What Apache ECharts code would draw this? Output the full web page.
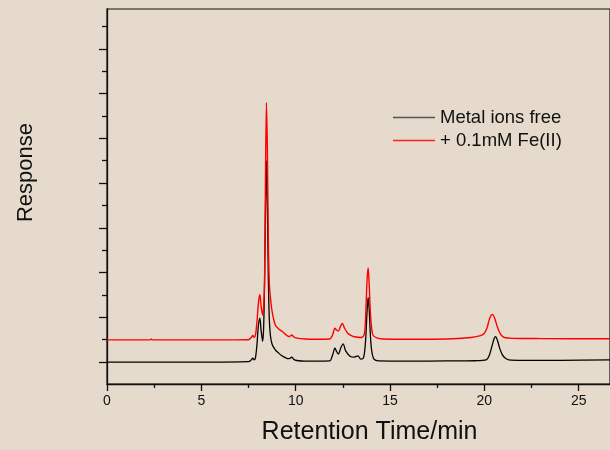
<!DOCTYPE html>
<html>
<head>
<meta charset="utf-8">
<script src="https://cdn.jsdelivr.net/npm/echarts@6/dist/echarts.min.js"></script>
<style>
html,body{margin:0;padding:0;background:#e5dacb;}
#chart{width:610px;height:450px;}
</style>
</head>
<body>
<div id="chart"></div>
<script>
// Series names
var seriesNames = ['Metal ions free', '+ 0.1mM Fe(II)'];

// Black trace: Metal ions free (retention time in min, response in arbitrary units)
var blackTime = [0, 2, 5, 7.5, 7.65, 7.73, 7.8, 7.87, 7.95, 8.02, 8.1, 8.17, 8.25, 8.3, 8.35, 8.4, 8.45, 8.5, 8.55, 8.6, 8.66, 8.75, 8.92, 9.1, 9.27, 9.45, 9.63, 9.72, 9.8, 9.9, 10.06, 10.5, 11.0, 11.8, 11.95, 12.08, 12.18, 12.26, 12.4, 12.52, 12.65, 12.9, 13.1, 13.3, 13.45, 13.6, 13.7, 13.78, 13.84, 13.9, 13.96, 14.03, 14.15, 14.4, 16, 18, 19.5, 20.1, 20.25, 20.4, 20.52, 20.6, 20.7, 20.82, 20.95, 21.1, 21.3, 22, 24, 26.66];
var blackResp = [0, 0, 0, 0.02, 0.1, 0.18, 0.1, 0.2, 0.8, 1.6, 1.96, 1.4, 0.93, 1.5, 3.5, 6.8, 9.0, 7.0, 3.8, 2.0, 1.2, 0.8, 0.55, 0.4, 0.28, 0.2, 0.15, 0.18, 0.22, 0.12, 0.07, 0.04, 0.04, 0.05, 0.3, 0.62, 0.45, 0.36, 0.65, 0.81, 0.5, 0.25, 0.22, 0.28, 0.13, 0.2, 0.9, 2.2, 2.89, 2.3, 1.2, 0.5, 0.13, 0.05, 0.04, 0.05, 0.06, 0.1, 0.27, 0.7, 1.05, 1.14, 0.95, 0.6, 0.33, 0.18, 0.1, 0.08, 0.08, 0.1];

// Red trace: + 0.1mM Fe(II)
var redTime = [0, 2.3, 2.35, 2.4, 5, 7.5, 7.65, 7.73, 7.8, 7.87, 7.95, 8.02, 8.1, 8.17, 8.25, 8.3, 8.35, 8.4, 8.45, 8.5, 8.55, 8.6, 8.66, 8.75, 8.92, 9.1, 9.27, 9.45, 9.63, 9.72, 9.8, 9.9, 10.06, 10.5, 11.0, 11.8, 11.95, 12.08, 12.18, 12.26, 12.38, 12.47, 12.6, 12.75, 12.9, 13.1, 13.5, 13.65, 13.72, 13.78, 13.84, 13.9, 13.96, 14.03, 14.1, 14.3, 14.6, 16, 18, 19.3, 19.8, 20.0, 20.15, 20.28, 20.43, 20.55, 20.68, 20.78, 20.9, 21.06, 21.5, 23, 26.66];
var redResp = [0.99, 0.99, 1.03, 0.99, 0.99, 1.0, 1.1, 1.19, 1.1, 1.21, 1.8, 2.6, 3.02, 2.5, 2.1, 2.4, 3.6, 8.2, 11.6, 9.5, 5.5, 3.6, 2.9, 2.27, 1.66, 1.48, 1.38, 1.25, 1.14, 1.17, 1.21, 1.12, 1.07, 1.03, 1.02, 1.03, 1.2, 1.51, 1.42, 1.39, 1.6, 1.73, 1.5, 1.3, 1.2, 1.13, 1.1, 1.3, 2.3, 3.6, 4.22, 3.4, 2.2, 1.5, 1.2, 1.08, 1.03, 1.02, 1.03, 1.1, 1.18, 1.29, 1.55, 1.95, 2.13, 1.95, 1.6, 1.38, 1.2, 1.1, 1.06, 1.05, 1.04];

// Axis ticks
var xMajorTicks = [0, 5, 10, 15, 20, 25];
var xMinorTicks = [2.5, 7.5, 12.5, 17.5, 22.5];
var yLongTicks = [0, 2, 4, 6, 8, 10, 12, 14];
var yShortTicks = [1, 3, 5, 7, 9, 11, 13, 15];
var xRange = [0, 26.66];
var yRange = [-0.98, 15.78];

function pairs(t, v) {
  var out = [];
  for (var i = 0; i < t.length; i++) out.push([t[i], v[i]]);
  return out;
}

var font = 'Liberation Sans, Arial, sans-serif';
var chart = echarts.init(document.getElementById('chart'), null, {renderer: 'canvas'});
chart.setOption({
  backgroundColor: '#e5dacb',
  animation: false,
  grid: {
    left: 107, top: 9, right: -3, bottom: 64,
    show: true, borderColor: '#111', borderWidth: 1.2, backgroundColor: 'transparent'
  },
  legend: {
    orient: 'vertical',
    left: 393, top: 108, padding: 0,
    icon: 'rect',
    itemWidth: 42, itemHeight: 1.3, itemGap: 4,
    textStyle: {fontFamily: font, fontSize: 18.5, color: '#111', lineHeight: 19},
    data: [
      {name: seriesNames[0], itemStyle: {color: '#555'}},
      {name: seriesNames[1], itemStyle: {color: '#ff2020'}}
    ]
  },
  xAxis: [{
    type: 'value', min: xRange[0], max: xRange[1],
    name: 'Retention Time/min', nameLocation: 'middle', nameGap: 36,
    nameTextStyle: {fontFamily: font, fontSize: 25, color: '#111', padding: [0, 0, 0, 22]},
    axisLine: {onZero: false, lineStyle: {color: '#111', width: 1.3}},
    axisTick: {show: true, inside: false, length: 7, lineStyle: {color: '#111', width: 1.3}, customValues: xMajorTicks},
    axisLabel: {fontFamily: font, fontSize: 14, color: '#111', margin: 10, customValues: xMajorTicks},
    splitLine: {show: false}
  }, {
    type: 'value', min: xRange[0], max: xRange[1], position: 'bottom',
    axisLine: {show: false, onZero: false},
    axisTick: {show: true, inside: false, length: 4, lineStyle: {color: '#111', width: 1.3}, customValues: xMinorTicks},
    axisLabel: {show: false},
    splitLine: {show: false}
  }],
  yAxis: [{
    type: 'value', min: yRange[0], max: yRange[1],
    name: 'Response', nameLocation: 'middle', nameGap: 70,
    nameTextStyle: {fontFamily: font, fontSize: 22, color: '#111', padding: [0, 0, 0, 48]},
    axisLine: {show: true, onZero: false, lineStyle: {color: '#111', width: 1.3}},
    axisTick: {show: true, inside: false, length: 8, lineStyle: {color: '#111', width: 1.3}, customValues: yLongTicks},
    axisLabel: {show: false},
    splitLine: {show: false}
  }, {
    type: 'value', min: yRange[0], max: yRange[1], position: 'left',
    axisLine: {show: false, onZero: false},
    axisTick: {show: true, inside: false, length: 5, lineStyle: {color: '#111', width: 1.3}, customValues: yShortTicks},
    axisLabel: {show: false},
    splitLine: {show: false}
  }],
  series: [{
    name: seriesNames[0], type: 'line', symbol: 'none', smooth: 0.3,
    xAxisIndex: 0, yAxisIndex: 0,
    lineStyle: {color: '#000', width: 1.3}, itemStyle: {color: '#555'},
    data: pairs(blackTime, blackResp), z: 2
  }, {
    name: seriesNames[1], type: 'line', symbol: 'none', smooth: 0.3,
    xAxisIndex: 0, yAxisIndex: 0,
    lineStyle: {color: '#ff0000', width: 1.4}, itemStyle: {color: '#ff0000'},
    data: pairs(redTime, redResp), z: 3
  }]
});
</script>
</body>
</html>
